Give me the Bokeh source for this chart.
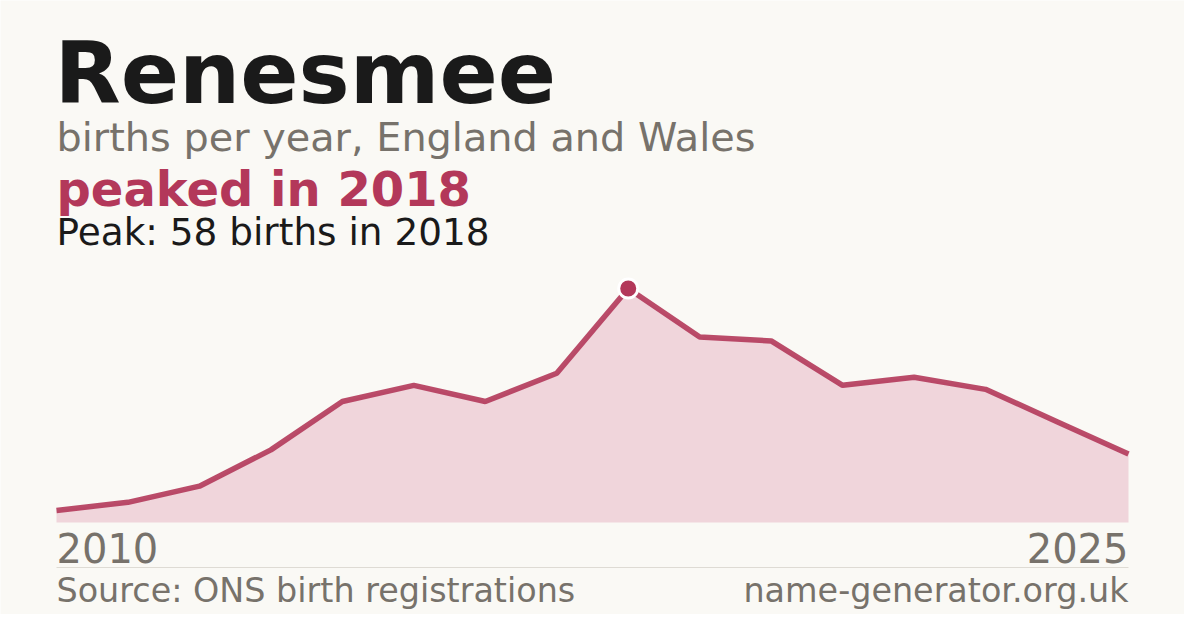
from bokeh.plotting import figure
from bokeh.models import Label, Range1d
from bokeh.embed import file_html
from bokeh.resources import INLINE

# ---- data ----
years = list(range(2010, 2026))
births = [3, 5, 9, 18, 30, 34, 30, 37, 58, 46, 45, 34, 36, 33, 25, 17]
peak_year = 2018
peak_births = 58

title_text = "Renesmee"
subtitle_text = "births per year, England and Wales"
headline_text = "peaked in 2018"
peak_text = "Peak: 58 births in 2018"
source_text = "Source: ONS birth registrations"
site_text = "name-generator.org.uk"
tick_labels = ["2010", "2025"]

# ---- style ----
BG = "#faf9f5"
CRIMSON = "#b3385a"
FILL = "#f0d5db"
DARK = "#1a1a1a"
GRAY = "#77726b"
FONT = "DejaVu Sans"

W, H, OFF = 1184, 614, 8
# chart frame in page pixels
CL, CR = 64, 1136        # left / right of the area
CB, CPEAK = 530, 296     # baseline y, peak y
BASE_SHIFT = 0.37        # svg baseline correction (fraction of font size)

xpy = (CR - CL) / (years[-1] - years[0])
x0 = years[0] - (CL - OFF) / xpy
x1 = x0 + W / xpy
ypu = (CB - CPEAK) / max(births)
y0 = -((OFF + H) - CB) / ypu
y1 = y0 + H / ypu


def tx(px):
    return x0 + (px - OFF) / xpy


def ty(py):
    return y0 + ((OFF + H) - py) / ypu


p = figure(width=W, height=H, output_backend="svg", toolbar_location=None,
           x_range=Range1d(x0, x1), y_range=Range1d(y0, y1),
           x_axis_type=None, y_axis_type=None, min_border=0)
p.background_fill_color = BG
p.border_fill_color = BG
p.outline_line_color = None
p.grid.visible = False

p.varea(x=years, y1=[0] * len(years), y2=births, fill_color=FILL)
p.line(x=years, y=births, line_color=CRIMSON, line_width=5.5, line_alpha=0.9)
p.scatter(x=[peak_year], y=[peak_births], size=19, fill_color=CRIMSON,
          line_color="white", line_width=3)


def lab(text, x, base, size, color, bold=False, align="left"):
    p.add_layout(Label(x=x, y=ty(base - BASE_SHIFT * size), text=text,
                       text_font=FONT, text_font_size=f"{size}px",
                       text_color=color,
                       text_font_style="bold" if bold else "normal",
                       text_align=align, text_baseline="alphabetic"))


lab(title_text, tx(CL - 2), 112, 86, DARK, bold=True)
lab(subtitle_text, tx(CL), 159, 39.8, GRAY)
lab(headline_text, tx(CL), 214, 48, CRIMSON, bold=True)
lab(peak_text, tx(CL), 253, 37.4, DARK)
lab(tick_labels[0], years[0], 570, 40, GRAY)
lab(tick_labels[1], years[-1], 570, 40, GRAY, align="right")
lab(source_text, tx(CL), 610, 33.4, GRAY)
lab(site_text, tx(CR), 610, 33.4, GRAY, align="right")

p.segment(x0=[years[0]], y0=[ty(575)], x1=[years[-1]], y1=[ty(575)],
          line_color="#dedbd4", line_width=1)

open("out.html", "w").write(file_html(p, INLINE))
